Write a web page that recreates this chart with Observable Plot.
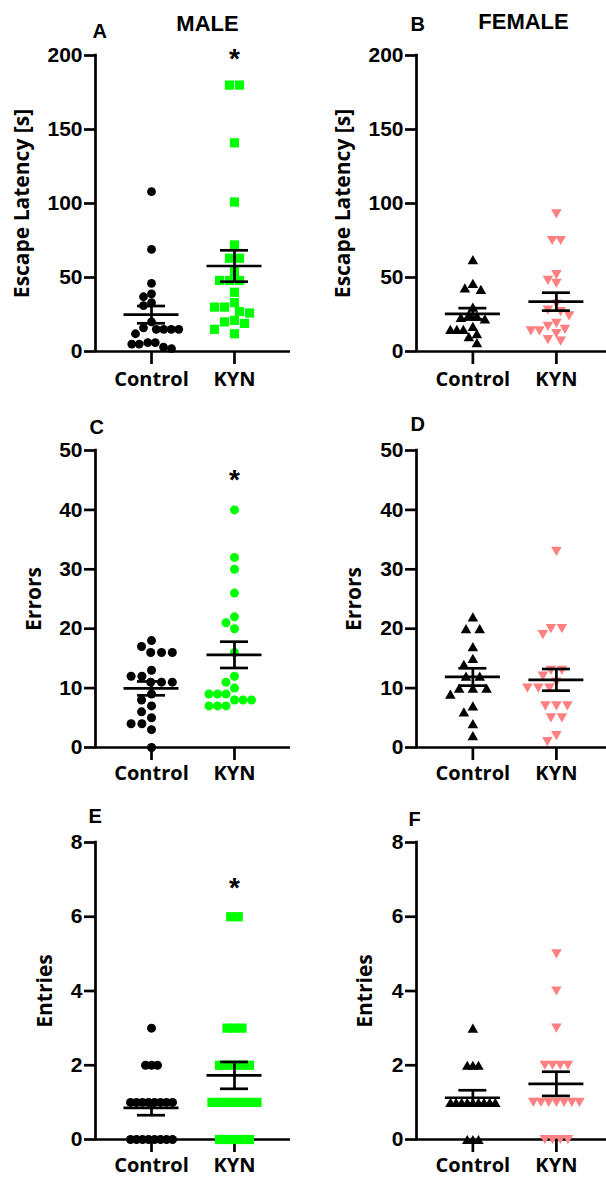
<!DOCTYPE html>
<html>
<head>
<meta charset="utf-8">
<script src="https://cdn.jsdelivr.net/npm/d3@7"></script>
<script src="https://cdn.jsdelivr.net/npm/@observablehq/plot@0.6"></script>
<style>
  html, body { margin: 0; padding: 0; background: #fff; }
  #root { position: relative; width: 606px; height: 1177px; overflow: hidden; }
  .cell { position: absolute; }
</style>
</head>
<body>
<div id="root"></div>
<script>
// ---------- DATA ----------
const groups = ["Control", "KYN"];

// Escape latency [s]
const maleLatencyControl = [108, 69, 46, 39, 37, 33, 31, 20, 16, 15, 15, 15, 15, 12, 6, 6, 5, 5, 3, 2];
const maleLatencyKYN = [180, 180, 141, 101, 72, 63, 63, 54, 48, 48, 48, 40, 33, 30, 30, 27, 26, 21, 20, 19, 15, 12];
const femaleLatencyControl = [62, 46, 43, 42, 30, 25, 24, 23, 22, 17, 15, 15, 15, 12, 10, 6];
const femaleLatencyKYN = [93, 75, 75, 52, 48, 46, 32, 28, 27, 24, 19, 17, 15, 14, 14, 12, 8, 7];

// Errors
const maleErrorsControl = [18, 17, 16, 16, 16, 13, 12, 12, 11, 11, 11, 9, 8, 7, 6, 5, 4, 4, 3, 0];
const maleErrorsKYN = [40, 32, 30, 26, 22, 21, 20, 16, 12, 11, 10, 9, 9, 9, 8, 8, 8, 7, 7, 7];
const femaleErrorsControl = [22, 20, 20, 17, 15, 14, 12, 12, 10, 10, 10, 9, 7, 6, 4, 2];
const femaleErrorsKYN = [33, 20, 20, 19, 13, 13, 12, 11, 10, 10, 10, 7, 7, 7, 5, 5, 2, 1];

// Entries
const maleEntriesControl = [3, 2, 2, 2, 1, 1, 1, 1, 1, 1, 1, 1, 0, 0, 0, 0, 0, 0, 0, 0];
const maleEntriesKYN = [6, 6, 3, 3, 3, 2, 2, 2, 2, 2, 1, 1, 1, 1, 1, 1, 1, 0, 0, 0, 0, 0];
const femaleEntriesControl = [3, 2, 2, 2, 1, 1, 1, 1, 1, 1, 1, 1, 1, 0, 0, 0];
const femaleEntriesKYN = [5, 4, 3, 2, 2, 2, 2, 1, 1, 1, 1, 1, 1, 1, 0, 0, 0, 0];

// axis ticks
const latencyTicks = [0, 50, 100, 150, 200];
const errorsTicks = [0, 10, 20, 30, 40, 50];
const entriesTicks = [0, 2, 4, 6, 8];

// significance markers (KYN, male panels): y position of "*"
const starLatency = 200;
const starErrors = 45.5;
const starEntries = 6.85;

// ---------- STYLE ----------
const GREEN = "#00ff00";
const PINK = "#ff8080";
const BLACK = "#000000";
const SW = 2.7;
const W = 303, H = 393;
const NUM_FONT = "'Liberation Sans', Arial, sans-serif";
const LAB_FONT = "'Open Sans', sans-serif";

const triUp = {
  draw(ctx, size) {
    const r = Math.sqrt(size / Math.PI);
    const w = 2.4 * r, h = 2.1 * r;
    ctx.moveTo(0, -h / 2); ctx.lineTo(w / 2, h / 2); ctx.lineTo(-w / 2, h / 2); ctx.closePath();
  }
};
const triDown = {
  draw(ctx, size) {
    const r = Math.sqrt(size / Math.PI);
    const w = 2.4 * r, h = 2.1 * r;
    ctx.moveTo(0, h / 2); ctx.lineTo(w / 2, -h / 2); ctx.lineTo(-w / 2, -h / 2); ctx.closePath();
  }
};

// GraphPad-like scatter layout: ties become centred rows, others are swarmed on a grid
function swarm(values, gi, p) {
  const sorted = values.slice().sort((a, b) => b - a);
  const ties = d3.groups(sorted, v => v);
  const placed = [];
  for (const [v, arr] of ties) {
    const k = arr.length;
    const base = arr.map((_, j) => (j - (k - 1) / 2) * p.s);
    let best = 0;
    for (let n = 0; n < 400; n++) {
      const c = (n % 2 ? -1 : 1) * Math.ceil(n / 2) * p.h;
      const ok = base.every(b => placed.every(q => Math.hypot(b + c - q.x, (v - q.v) * p.ppu) >= p.D));
      if (ok) { best = c; break; }
    }
    base.forEach(b => placed.push({ x: b + best, v }));
  }
  return placed.map(q => ({ g: gi, value: q.v, x: gi + q.x / p.ppx }));
}

function panel(cfg) {
  const xmin = -0.675;
  const xmax = cfg.right ? 1.6 : 1.675;
  const ml = cfg.right ? 113 : 95;
  const mr = cfg.right ? 0 : 13;
  const mt = cfg.mt, mb = cfg.mb;
  const ppx = (W - ml - mr) / (xmax - xmin);
  const ppu = (H - mt - mb) / cfg.ymax;

  const ptsByGroup = [0, 1].map(gi =>
    swarm(cfg.data[gi], gi, { ppu, ppx, D: cfg.D[gi], s: cfg.s[gi], h: cfg.D[gi] / 2 }));
  const stats = [0, 1].map(gi => {
    const vals = cfg.data[gi];
    const m = d3.mean(vals), se = d3.deviation(vals) / Math.sqrt(vals.length);
    return { g: gi, mean: m, lo: m - se, hi: m + se };
  });

  const meanHalf = 27.5 / ppx, capHalf = 14 / ppx;

  const marks = [
    Plot.axisY({ ticks: cfg.ticks, tickSize: 11, tickPadding: 2, fontSize: 21, fontWeight: "bold",
      fontFamily: NUM_FONT, stroke: BLACK, strokeWidth: SW, fill: BLACK, label: null }),
    Plot.axisX({ ticks: [0, 1], tickFormat: i => groups[i], tickSize: 13, tickPadding: cfg.xpad,
      fontSize: 20, fontWeight: "bold", fontFamily: LAB_FONT, stroke: BLACK, strokeWidth: SW,
      fill: BLACK, label: null }),
    Plot.ruleX([xmin], { y1: 0, y2: cfg.ymax, stroke: BLACK, strokeWidth: SW, strokeLinecap: "square" }),
    Plot.ruleY([0], { x1: xmin, x2: xmax, stroke: BLACK, strokeWidth: SW }),
    ...[0, 1].map(gi => Plot.dot(ptsByGroup[gi], { x: "x", y: "value", fill: cfg.colors[gi], stroke: "none",
      symbol: cfg.symbols[gi], r: cfg.r[gi] })),
    Plot.ruleY(stats, { y: "mean", x1: d => d.g - meanHalf, x2: d => d.g + meanHalf, stroke: BLACK, strokeWidth: SW }),
    Plot.ruleY(stats, { y: "hi", x1: d => d.g - capHalf, x2: d => d.g + capHalf, stroke: BLACK, strokeWidth: SW }),
    Plot.ruleY(stats, { y: "lo", x1: d => d.g - capHalf, x2: d => d.g + capHalf, stroke: BLACK, strokeWidth: SW }),
    Plot.ruleX(stats, { x: "g", y1: "lo", y2: "hi", stroke: BLACK, strokeWidth: SW }),
    Plot.text([cfg.label], { text: d => d, frameAnchor: "left", dx: cfg.labelDx, rotate: -90,
      textAnchor: "middle", lineAnchor: "middle", fontSize: 21, fontWeight: "bold", fontFamily: LAB_FONT, fill: BLACK }),
    Plot.text([cfg.letter], { text: d => d, frameAnchor: "top-left", dx: cfg.letterPos[0], dy: cfg.letterPos[1],
      textAnchor: "start", lineAnchor: "bottom", fontSize: 20, fontWeight: "bold", fontFamily: NUM_FONT, fill: BLACK })
  ];
  if (cfg.title) {
    marks.push(Plot.text([cfg.title], { text: d => d, frameAnchor: "top-left", dx: cfg.titlePos[0], dy: cfg.titlePos[1],
      textAnchor: "middle", lineAnchor: "bottom", fontSize: 22, fontWeight: "bold", fontFamily: NUM_FONT, fill: BLACK }));
  }
  if (cfg.star != null) {
    marks.push(Plot.text([cfg.star], { text: () => "*", x: () => 1, y: d => d, dy: 12,
      textAnchor: "middle", lineAnchor: "bottom", fontSize: 28, fontWeight: "bold", fontFamily: NUM_FONT, fill: BLACK }));
  }

  return Plot.plot({
    width: W, height: H,
    marginLeft: ml, marginRight: mr, marginTop: mt, marginBottom: mb,
    style: { overflow: "visible", background: "transparent" },
    x: { type: "linear", domain: [xmin, xmax] },
    y: { type: "linear", domain: [0, cfg.ymax] },
    marks
  });
}

const rowA = { mt: 55, mb: 42, xpad: 7 };
const rowC = { mt: 58, mb: 38, xpad: 5 };
const rowE = { mt: 58, mb: 38, xpad: 5 };

const panels = [
  { left: 0, top: 0, ...rowA, right: false, data: [maleLatencyControl, maleLatencyKYN], ymax: 200, ticks: latencyTicks,
    label: "Escape Latency [s]", labelDx: -73, letter: "A", letterPos: [-3, -18], title: "MALE", titlePos: [112, -25],
    star: starLatency, colors: [BLACK, GREEN], symbols: ["circle", "square"], r: [4.4, 5.2], D: [8, 10], s: [7.5, 10] },
  { left: 303, top: 0, ...rowA, right: true, data: [femaleLatencyControl, femaleLatencyKYN], ymax: 200, ticks: latencyTicks,
    label: "Escape Latency [s]", labelDx: -73, letter: "B", letterPos: [-6, -25], title: "FEMALE", titlePos: [107, -27],
    star: null, colors: [BLACK, PINK], symbols: [triUp, triDown], r: [4.4, 4.4], D: [8, 8.5], s: [6.5, 8.5] },
  { left: 0, top: 392, ...rowC, right: false, data: [maleErrorsControl, maleErrorsKYN], ymax: 50, ticks: errorsTicks,
    label: "Errors", labelDx: -61, letter: "C", letterPos: [-6, -17],
    star: starErrors, colors: [BLACK, GREEN], symbols: ["circle", "circle"], r: [4.5, 4.5], D: [10, 8.5], s: [10.8, 8.5] },
  { left: 303, top: 392, ...rowC, right: true, data: [femaleErrorsControl, femaleErrorsKYN], ymax: 50, ticks: errorsTicks,
    label: "Errors", labelDx: -62, letter: "D", letterPos: [-6, -20],
    star: null, colors: [BLACK, PINK], symbols: [triUp, triDown], r: [4.4, 4.4], D: [9, 9], s: [13.7, 11] },
  { left: 0, top: 784, ...rowE, right: false, data: [maleEntriesControl, maleEntriesKYN], ymax: 8, ticks: entriesTicks,
    label: "Entries", labelDx: -50, letter: "E", letterPos: [-7, -20],
    star: starEntries, colors: [BLACK, GREEN], symbols: ["circle", "square"], r: [4.5, 5.2], D: [9, 9], s: [6, 7.5] },
  { left: 303, top: 784, ...rowE, right: true, data: [femaleEntriesControl, femaleEntriesKYN], ymax: 8, ticks: entriesTicks,
    label: "Entries", labelDx: -51, letter: "F", letterPos: [-8, -17],
    star: null, colors: [BLACK, PINK], symbols: [triUp, triDown], r: [4.4, 4.4], D: [9, 9], s: [5.6, 7.7] }
];

const root = document.getElementById("root");
for (const cfg of panels) {
  const cell = document.createElement("div");
  cell.className = "cell";
  cell.style.left = cfg.left + "px";
  cell.style.top = cfg.top + "px";
  cell.appendChild(panel(cfg));
  root.appendChild(cell);
}
</script>
</body>
</html>
